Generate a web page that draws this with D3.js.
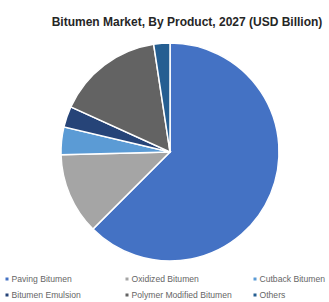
<!DOCTYPE html>
<html><head><meta charset="utf-8">
<script src="https://cdn.jsdelivr.net/npm/d3@7"></script>
<style>body{margin:0;background:#fff;}svg{display:block;}</style>
</head><body>
<svg id="c" width="329" height="302"></svg>
<script>
const categories = ["Paving Bitumen","Oxidized Bitumen","Cutback Bitumen","Bitumen Emulsion","Polymer Modified Bitumen","Others"];
const values = [62.5, 12.1, 4.1, 3.1, 15.8, 2.4];
const colors = ["#4472C4","#A5A5A5","#5B9BD5","#264478","#636363","#255E91"];
const title = "Bitumen Market, By Product, 2027 (USD Billion)";

const svg = d3.select("#c");
svg.append("text").attr("x",187).attr("y",26).attr("text-anchor","middle")
  .attr("font-family","Liberation Sans, Arial, sans-serif").attr("font-weight","bold")
  .attr("font-size",12).attr("fill","#262626").text(title);

const cx = 170, cy = 152, r = 109;
const pie = d3.pie().sort(null).value(d=>d)(values);
const arc = d3.arc().innerRadius(0).outerRadius(r);
const g = svg.append("g").attr("transform",`translate(${cx},${cy})`);
g.selectAll("path").data(pie).join("path")
  .attr("d",arc).attr("fill",(d,i)=>colors[i])
  .attr("stroke","#fff").attr("stroke-width",1.5);

const colX = [7,127,255], rowY = [279,295];
const lg = svg.append("g");
categories.forEach((c,i)=>{
  const x = colX[i%3], y = rowY[Math.floor(i/3)];
  lg.append("rect").attr("x",x-1.5).attr("y",y-1.5).attr("width",3).attr("height",3).attr("fill",colors[i]);
  lg.append("text").attr("x",x+4.5).attr("y",y).attr("dy","0.35em")
    .attr("font-family","Liberation Sans, Arial, sans-serif").attr("font-size",8.6)
    .attr("fill","#666").text(c);
});
</script>
</body></html>
